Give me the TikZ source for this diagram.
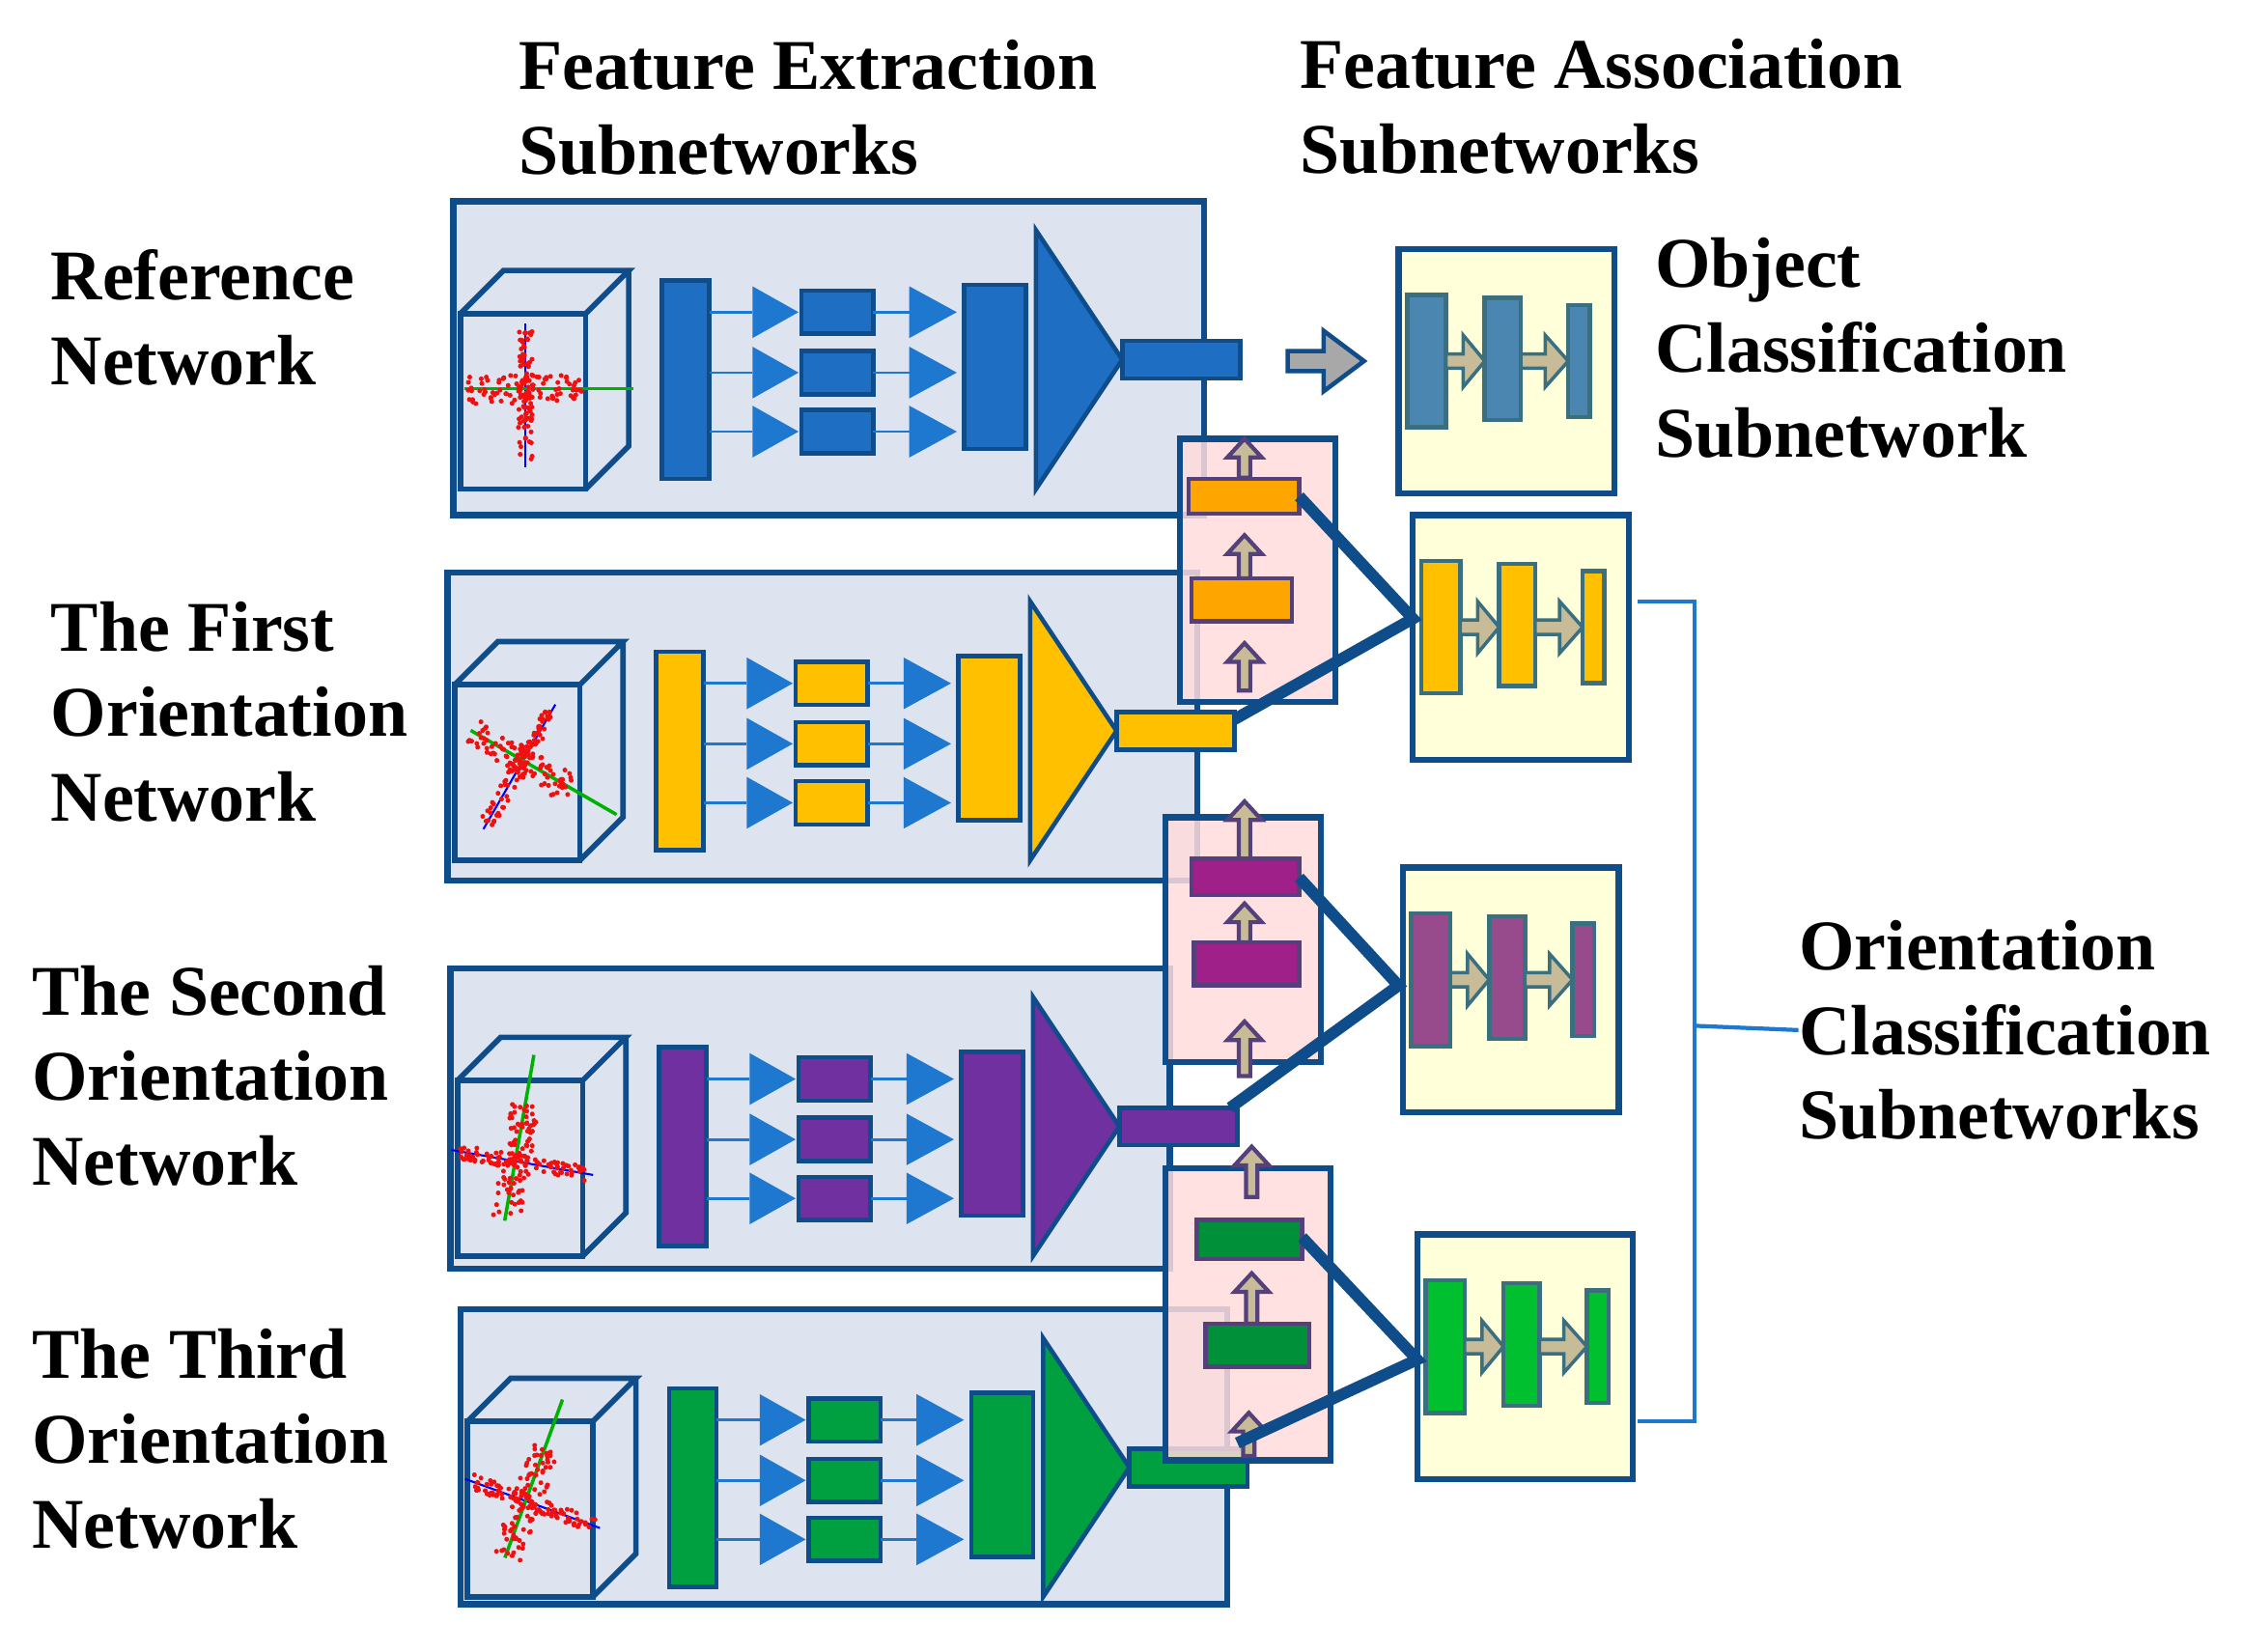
\documentclass[tikz,border=0pt]{standalone}
\usepackage{fontspec}
\setmainfont{Liberation Serif}
\definecolor{edgeblue}{HTML}{0F4C8A}
\definecolor{panelbg}{HTML}{DDE4EF}
\definecolor{netblue}{HTML}{1E6FC4}
\definecolor{triblue}{HTML}{1E78D0}
\definecolor{netyellow}{HTML}{FFC000}
\definecolor{netorange}{HTML}{FFA500}
\definecolor{netpurple}{HTML}{7030A0}
\definecolor{assocpurple}{HTML}{A0208A}
\definecolor{netgreen}{HTML}{00A040}
\definecolor{pinkbg}{HTML}{FFDCDC}
\definecolor{clsbg}{HTML}{FFFFDA}
\definecolor{clsedge}{HTML}{3A6F80}
\definecolor{clsblue}{HTML}{4A86B0}
\definecolor{clspurple}{HTML}{974A8C}
\definecolor{clsgreen}{HTML}{00C030}
\definecolor{beige}{HTML}{C8BC98}
\definecolor{cloudred}{HTML}{F01010}
\definecolor{arrowgray}{HTML}{A8A8A8}
\definecolor{upedge}{HTML}{54407A}

\tikzset{
  panel/.style={draw=edgeblue, fill=panelbg, line width=1.8pt},
  block/.style={draw=edgeblue, line width=1.3pt},
  cubeline/.style={draw=edgeblue, line width=1.6pt},
  tri/.style={fill=triblue},
  link/.style={draw=triblue, line width=0.8pt},
  assoc/.style={draw=edgeblue, fill=pinkbg, fill opacity=0.85, line width=1.8pt},
  cls/.style={draw=edgeblue, fill=clsbg, line width=1.8pt},
  clsbar/.style={draw=clsedge, line width=1.3pt},
  fat/.style={draw=clsedge, fill=beige, line width=1pt},
  upar/.style={draw=upedge, fill=beige, line width=1.2pt},
  merge/.style={draw=edgeblue, line width=3.4pt},
  bracket/.style={draw=triblue, line width=1.2pt},
  lab/.style={font=\fontsize{21}{25}\selectfont\bfseries, align=left, inner sep=0pt}
}

% one feature extraction subnetwork
\newcommand{\subnet}[6]{%
  \begin{scope}[shift={(#1,#2)}]
    \draw[panel] (0,0) rectangle (#3,#4);
    % cube with point cloud
    \draw[cubeline, fill=panelbg] (5,78) rectangle (92,200);
    \draw[cubeline] (5,78) -- (35,48) -- (122,48) -- (92,78) (122,48) -- (122,170) -- (92,200);
    \begin{scope}[shift={(50,135)}, rotate=#6]
      \draw[blue, line width=0.6pt] (0,-50) -- (0,50);
      \draw[green!70!black, line width=1pt] (-42,-5) -- (75,-5);
      \foreach \k in {1,...,90}{
        \fill[cloudred] ({-40+80*rnd},{-4+10*rand}) circle (1.7);
        \fill[cloudred] ({5*rand},{-45+90*rnd}) circle (1.7);
      }
    \end{scope}
    % layers
    \draw[block, fill=#5] (145,55) rectangle (178,193);
    \foreach \ry in {77,119,160}{
      \draw[link] (178,\ry) -- (208,\ry);
      \fill[tri] (208,{\ry-18}) -- (240,\ry) -- (208,{\ry+18}) -- cycle;
      \draw[block, fill=#5] (242,{\ry-15}) rectangle (292,{\ry+15});
      \draw[link] (292,\ry) -- (317,\ry);
      \fill[tri] (317,{\ry-18}) -- (350,\ry) -- (317,{\ry+18}) -- cycle;
    }
    \draw[block, fill=#5] (355,58) rectangle (398,172);
    \draw[block, fill=#5] (405,20) -- (465,110) -- (405,200) -- cycle;
    \draw[block, fill=#5] (465,97) rectangle (547,123);
  \end{scope}}

% one classification subnetwork
\newcommand{\clsbox}[3]{%
  \begin{scope}[shift={(#1,#2)}]
    \draw[cls] (0,0) rectangle (150,170);
    \draw[clsbar, fill=#3] (6,32) rectangle (33,124);
    \draw[fat] (33,73) -- (45,73) -- (45,60) -- (60,78) -- (45,96) -- (45,83) -- (33,83) -- cycle;
    \draw[clsbar, fill=#3] (60,34) rectangle (85,119);
    \draw[fat] (85,73) -- (102,73) -- (102,60) -- (118,78) -- (102,96) -- (102,83) -- (85,83) -- cycle;
    \draw[clsbar, fill=#3] (118,39) rectangle (133,117);
  \end{scope}}

% upward arrow in an association block
\newcommand{\uparr}[3]{%
  \draw[upar] ({#1-4},#3) -- ({#1-4},{#2+13}) -- ({#1-12},{#2+13}) -- (#1,#2)
    -- ({#1+12},{#2+13}) -- ({#1+4},{#2+13}) -- ({#1+4},#3) -- cycle;}

\begin{document}
\begin{tikzpicture}[x=0.0149cm, y=-0.0149cm]
\useasboundingbox (0,0) rectangle (1559,1148);
\pgfmathsetseed{11}

% titles
\node[lab, anchor=west] (extract) at (360,75) {Feature Extraction\\Subnetworks};
\node[lab, anchor=west] (associate) at (903,74) {Feature Association\\Subnetworks};

% network labels
\node[lab, anchor=west] (refnet) at (35,221) {Reference\\Network};
\node[lab, anchor=west] (firstnet) at (35,495) {The First\\Orientation\\Network};
\node[lab, anchor=west] (secondnet) at (22,748) {The Second\\Orientation\\Network};
\node[lab, anchor=west] (thirdnet) at (22,1000) {The Third\\Orientation\\Network};

% feature extraction
\subnet{315}{140}{522}{218}{netblue}{0}
\subnet{311}{398}{521}{214}{netyellow}{-30}
\subnet{313}{673}{500}{209}{netpurple}{80}
\subnet{320}{910}{533}{205}{netgreen}{70}

% feature association blocks
\draw[assoc] (820,305) rectangle (928,488);
\draw[assoc] (810,568) rectangle (918,738);
\draw[assoc] (810,812) rectangle (925,1015);

\uparr{865}{305}{332}
\draw[block, draw=upedge, fill=netorange] (826,333) rectangle (903,357);
\uparr{865}{372}{402}
\draw[block, draw=upedge, fill=netorange] (828,402) rectangle (898,432);
\uparr{865}{447}{480}

\uparr{865}{557}{597}
\draw[block, draw=upedge, fill=assocpurple] (828,597) rectangle (903,622);
\uparr{865}{628}{655}
\draw[block, draw=upedge, fill=assocpurple] (830,655) rectangle (903,685);
\uparr{865}{710}{748}

\uparr{870}{797}{832}
\draw[block, draw=upedge, fill=netgreen!90!black] (832,848) rectangle (905,875);
\uparr{870}{885}{920}
\draw[block, draw=upedge, fill=netgreen!90!black] (838,920) rectangle (910,950);
\uparr{868}{982}{1012}

% classification subnetworks
\clsbox{972}{173}{clsblue}
\clsbox{982}{358}{netyellow}
\clsbox{975}{603}{clspurple}
\clsbox{985}{858}{clsgreen}

\node[lab, anchor=west] (objcls) at (1150,242) {Object\\Classification\\Subnetwork};
\node[lab, anchor=west] (oricls) at (1250,716) {Orientation\\Classification\\Subnetworks};

% reference feature to object classification
\draw[fat, fill=arrowgray, draw=edgeblue, line width=1.3pt] (895,244) -- (920,244) -- (920,230) -- (948,251)
  -- (920,272) -- (920,258) -- (895,258) -- cycle;

% association joins
\coordinate (ja) at (982,430);
\coordinate (jb) at (972,685);
\coordinate (jc) at (985,945);
\coordinate (a1) at (903,345);
\coordinate (a2) at (858,500);
\coordinate (b1) at (903,610);
\coordinate (b2) at (855,770);
\coordinate (c1) at (905,860);
\coordinate (c2) at (860,1003);
\draw[merge] (a1) -- (ja) -- (a2);
\draw[merge] (b1) -- (jb) -- (b2);
\draw[merge] (c1) -- (jc) -- (c2);

% bracket
\coordinate (bt) at (1138,418);
\coordinate (bb) at (1138,988);
\coordinate (bm) at (1178,713);
\draw[bracket] (bt) -| (bm) |- (bb);
\draw[bracket] (bm) -- (oricls.west);
\end{tikzpicture}
\end{document}
